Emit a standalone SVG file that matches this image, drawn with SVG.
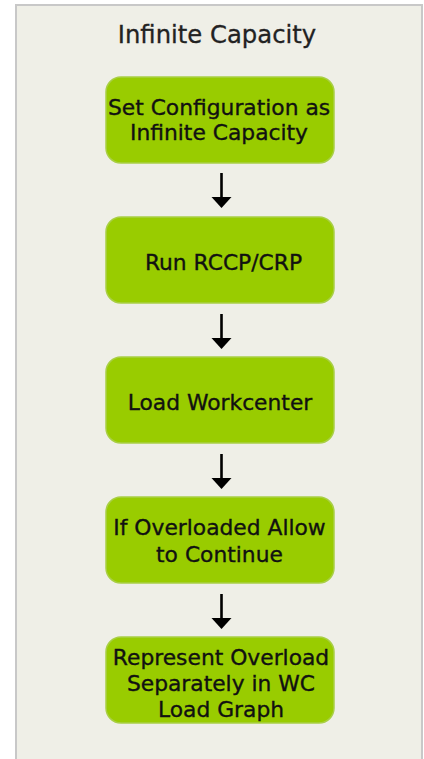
<svg xmlns="http://www.w3.org/2000/svg" width="424" height="759" viewBox="0 0 424 759">
<defs>
<style>
.box{fill:#99cc00;stroke:#a9cf45;stroke-width:1.5}
.t{font-family:"DejaVu Sans",Verdana,sans-serif;font-size:21.8px;fill:#111;stroke:#111;stroke-width:0.35;text-anchor:middle}
.title{font-family:"DejaVu Sans",Verdana,sans-serif;font-size:24.3px;fill:#222;stroke:#222;stroke-width:0.3;text-anchor:middle}
.ln{stroke:#000;stroke-width:2.6;fill:none}
</style>
</defs>
<rect x="0" y="0" width="424" height="759" fill="#ffffff"/>
<rect x="16" y="5" width="406" height="760" fill="#efefe7" stroke="#c8c8c8" stroke-width="2"/>
<text class="title" x="217" y="43">Infinite Capacity</text>
<g id="connectors">
<line class="ln" x1="221.5" y1="173" x2="221.5" y2="197"/><path d="M211.5,197 L231.5,197 L221.5,208 Z"/>
<line class="ln" x1="221.5" y1="314" x2="221.5" y2="338"/><path d="M211.5,338 L231.5,338 L221.5,349 Z"/>
<line class="ln" x1="221.5" y1="454" x2="221.5" y2="478"/><path d="M211.5,478 L231.5,478 L221.5,489 Z"/>
<line class="ln" x1="221.5" y1="594" x2="221.5" y2="618"/><path d="M211.5,618 L231.5,618 L221.5,629 Z"/>
</g>
<g id="n1"><rect class="box" x="106" y="77" width="228" height="86" rx="15"/>
<text class="t" x="219" y="115">Set Configuration as</text><text class="t" x="219" y="140">Infinite Capacity</text></g>
<g id="n2"><rect class="box" x="106" y="217" width="228" height="86" rx="15"/>
<text class="t" x="223.5" y="270">Run RCCP/CRP</text></g>
<g id="n3"><rect class="box" x="106" y="357" width="228" height="86" rx="15"/>
<text class="t" x="220" y="410">Load Workcenter</text></g>
<g id="n4"><rect class="box" x="106" y="497" width="228" height="86" rx="15"/>
<text class="t" x="219.5" y="535">If Overloaded Allow</text><text class="t" x="219.5" y="562">to Continue</text></g>
<g id="n5"><rect class="box" x="106" y="637" width="228" height="86" rx="15"/>
<text class="t" x="221" y="665">Represent Overload</text><text class="t" x="221" y="691">Separately in WC</text><text class="t" x="221" y="717">Load Graph</text></g>
</svg>
